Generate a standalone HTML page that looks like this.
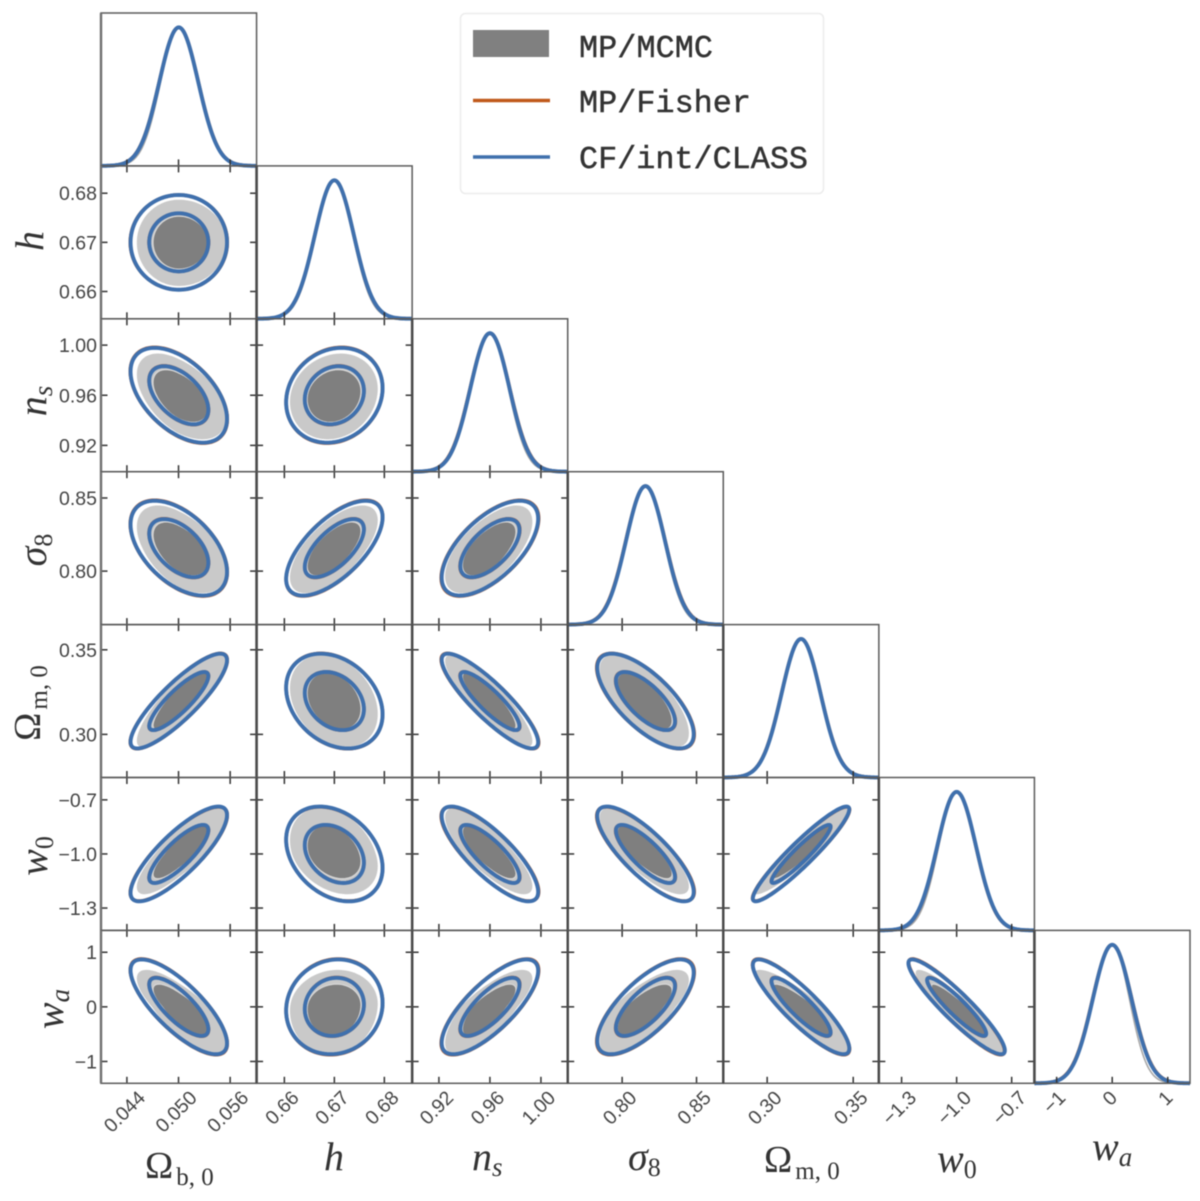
<!DOCTYPE html>
<html lang="en">
<head>
<meta charset="utf-8">
<title>Triangle plot of cosmological parameters</title>
<style>
html,body{margin:0;padding:0;background:#fff;}
svg{display:block;}
.tick{font-family:"Liberation Sans",sans-serif;font-size:19.5px;fill:#444;}
.math{font-family:"Liberation Serif",serif;fill:#333;}
.it{font-style:italic;}
.leg{font-family:"Liberation Mono",monospace;font-size:31.8px;fill:#333;stroke:#333;stroke-width:0.45px;}
</style>
</head>
<body>
<svg id="chart" width="1200" height="1201" viewBox="0 0 1200 1201" xmlns="http://www.w3.org/2000/svg">
<defs><filter id="soft" x="-2%" y="-2%" width="104%" height="104%" color-interpolation-filters="sRGB"><feGaussianBlur stdDeviation="0.5"/></filter></defs>
<rect width="1200" height="1201" fill="#fff"/>
<g filter="url(#soft)">
<g id="panels"></g>
<g>
<rect x="460.5" y="13.5" width="363" height="180" rx="5" fill="#fff" stroke="#ececec" stroke-width="1.5"/>
<rect x="473" y="30" width="76" height="27" fill="#808080"/>
<text class="leg" x="579" y="57" textLength="134">MP/MCMC</text>
<line x1="473" x2="550" y1="100.5" y2="100.5" stroke="#c0591b" stroke-width="3.4"/>
<text class="leg" x="579" y="112" textLength="172">MP/Fisher</text>
<line x1="473" x2="550" y1="157" y2="157" stroke="#3f70ad" stroke-width="3.4"/>
<text class="leg" x="579" y="168" textLength="229">CF/int/CLASS</text>
</g>
<g>
<text class="math" x="145" y="1178" font-size="38">Ω<tspan font-size="25" dx="3" dy="7">b, 0</tspan></text>
<text class="math it" x="324" y="1170" font-size="40">h</text>
<text class="math it" x="472" y="1170" font-size="40">n<tspan font-size="27" dy="6">s</tspan></text>
<text class="math it" x="628" y="1170" font-size="40">σ<tspan font-size="26" dy="6" style="font-style:normal">8</tspan></text>
<text class="math" x="764" y="1172" font-size="38">Ω<tspan font-size="25" dx="3" dy="7">m, 0</tspan></text>
<text class="math it" x="937" y="1172" font-size="40">w<tspan font-size="26" dy="6" style="font-style:normal">0</tspan></text>
<text class="math it" x="1092" y="1160" font-size="40">w<tspan font-size="27" dy="6">a</tspan></text>
</g>
<g text-anchor="middle">
<text class="math it" transform="translate(43,241) rotate(-90)" font-size="40">h</text>
<text class="math it" transform="translate(46,401) rotate(-90)" font-size="40">n<tspan font-size="27" dy="6">s</tspan></text>
<text class="math it" transform="translate(46,550) rotate(-90)" font-size="40">σ<tspan font-size="26" dy="6" style="font-style:normal">8</tspan></text>
<text class="math" transform="translate(40,703) rotate(-90)" font-size="38">Ω<tspan font-size="25" dx="3" dy="7">m, 0</tspan></text>
<text class="math it" transform="translate(47,856) rotate(-90)" font-size="40">w<tspan font-size="26" dy="6" style="font-style:normal">0</tspan></text>
<text class="math it" transform="translate(63,1009) rotate(-90)" font-size="40">w<tspan font-size="27" dy="6">a</tspan></text>
</g>
</g>
</svg>
<script>
// ---- data ----
const paramNames = ['omega-b','h','ns','sigma8','omega-m','w0','wa'];
const means  = [0.05003, 0.67, 0.96, 0.8157, 0.3197, -1.0, 0.0];
const sigmas = [0.00226, 0.00389, 0.01525, 0.01307, 0.01130, 0.106, 0.35];
const tickValues = [
  [0.044,0.050,0.056],
  [0.66,0.67,0.68],
  [0.92,0.96,1.00],
  [0.80,0.85],
  [0.30,0.35],
  [-1.3,-1.0,-0.7],
  [-1,0,1]
];
const tickLabels = [
  ['0.044','0.050','0.056'],
  ['0.66','0.67','0.68'],
  ['0.92','0.96','1.00'],
  ['0.80','0.85'],
  ['0.30','0.35'],
  ['\u22121.3','\u22121.0','\u22120.7'],
  ['\u22121','0','1']
];
// correlation of row parameter with each earlier parameter
const corrH     = [0.0];
const corrNs    = [-0.50, 0.15];
const corrSigma = [-0.50, 0.65, 0.62];
const corrOmegaM= [0.86, -0.28, -0.87, -0.70];
const corrW0    = [0.82, -0.30, -0.80, -0.80, 0.94];
const corrWa    = [-0.77, 0.08, 0.76, 0.72, -0.88, -0.92];
const correlations = [[], corrH, corrNs, corrSigma, corrOmegaM, corrW0, corrWa];
// MCMC contour size relative to Fisher, on the low and high side of each parameter
const mcmcLow  = [0.87, 0.92, 0.93, 0.95, 0.97, 0.85, 1.00];
const mcmcHigh = [0.98, 0.90, 0.88, 0.90, 0.97, 0.97, 0.78];
// Fisher contour size relative to CF/int/CLASS
const fisherScale = [1.005, 1.00, 1.01, 1.01, 1.005, 0.995, 1.01];
const contourLevels = [1.52, 2.48];

// ---- layout ----
const NS = 'http://www.w3.org/2000/svg';
const left = 101, top0 = 13, panelW = 155.57, panelH = 152.9;
const root = document.getElementById('panels');
const kRange = 4;
const lo = i => means[i] - kRange * sigmas[i];
const hi = i => means[i] + kRange * sigmas[i];
const xAxis = (col, v) => left + col * panelW + (v - lo(col)) / (hi(col) - lo(col)) * panelW;
const yAxis = (row, v) => top0 + (row + 1) * panelH - (v - lo(row)) / (hi(row) - lo(row)) * panelH;

function add(parent, tag, attrs) {
  const el = document.createElementNS(NS, tag);
  for (const k in attrs) el.setAttribute(k, attrs[k]);
  parent.appendChild(el);
  return el;
}
function ellipsePath(row, col, level, sx, sy) {
  const rho = correlations[row][col];
  const s = Math.sqrt(1 - rho * rho);
  let d = '';
  for (let n = 0; n <= 120; n++) {
    const t = n / 120 * 2 * Math.PI;
    const u = Math.cos(t), w = rho * Math.cos(t) + s * Math.sin(t);
    const x = means[col] + level * sigmas[col] * u * sx(col, u);
    const y = means[row] + level * sigmas[row] * w * sy(row, w);
    d += (n ? 'L' : 'M') + xAxis(col, x).toFixed(2) + ' ' + yAxis(row, y).toFixed(2);
  }
  return d + 'Z';
}
const unit = () => 1;
const mcmcSide = (i, u) => u < 0 ? mcmcLow[i] : mcmcHigh[i];
const fisherSide = i => fisherScale[i];

function gaussPath(i, sf) {
  const base = top0 + (i + 1) * panelH;
  const peak = 0.906 * panelH;
  let d = '';
  for (let n = 0; n <= 160; n++) {
    const v = lo(i) + n / 160 * (hi(i) - lo(i));
    const z = (v - means[i]) / sigmas[i];
    const f = z < 0 ? sf[0] : sf[1];
    const y = base - peak * Math.exp(-0.5 * z * z / (f * f));
    d += (n ? 'L' : 'M') + xAxis(i, v).toFixed(2) + ' ' + y.toFixed(2);
  }
  return d;
}

function drawTicks(g, row, col, diag) {
  const x0 = left + col * panelW, y0 = top0 + row * panelH;
  const len = 6.5;
  tickValues[col].forEach(v => {
    const x = xAxis(col, v);
    const b = add(g, 'line', {x1:x, x2:x, y1:y0 + panelH, y2:y0 + panelH - len, stroke:'#333', 'stroke-width':1.5});
    
    
    if (!diag) {
      const t = add(g, 'line', {x1:x, x2:x, y1:y0, y2:y0 + len, stroke:'#333', 'stroke-width':1.5});
      
      
    }
  });
  if (!diag) {
    tickValues[row].forEach(v => {
      const y = yAxis(row, v);
      const l = add(g, 'line', {x1:x0, x2:x0 + len, y1:y, y2:y, stroke:'#333', 'stroke-width':1.5});
      
      
      const r = add(g, 'line', {x1:x0 + panelW, x2:x0 + panelW - len, y1:y, y2:y, stroke:'#333', 'stroke-width':1.5});
      
      
    });
  }
}

for (let row = 0; row < 7; row++) {
  for (let col = 0; col <= row; col++) {
    const g = add(root, 'g', {});
    
    
    const x0 = left + col * panelW, y0 = top0 + row * panelH;
    if (row === col) {
      const sfMcmc = [0.5 + 0.5 * mcmcLow[row], 0.5 + 0.5 * mcmcHigh[row]];
      const sfFisher = [fisherScale[row], fisherScale[row]];
      const m = add(g, 'path', {d:gaussPath(row, sfMcmc), fill:'none', stroke:'#a8a8a8', 'stroke-width':1.6});
      
      
      const f = add(g, 'path', {d:gaussPath(row, sfFisher), fill:'none', stroke:'#c0591b', 'stroke-width':3.6});
      
      
      const c = add(g, 'path', {d:gaussPath(row, [1, 1]), fill:'none', stroke:'#3f70ad', 'stroke-width':3.9});
      
      
    } else {
      const outer = add(g, 'path', {d:ellipsePath(row, col, contourLevels[1], mcmcSide, mcmcSide), fill:'#c9c9c9'});
      
      
      const inner = add(g, 'path', {d:ellipsePath(row, col, contourLevels[0], mcmcSide, mcmcSide), fill:'#7f7f7f', stroke:'#dcdcdc', 'stroke-width':1});
      
      
      contourLevels.forEach(level => {
        const f = add(g, 'path', {d:ellipsePath(row, col, level, fisherSide, fisherSide), fill:'none', stroke:'#c0591b', 'stroke-width':3.6});
        
        
        const c = add(g, 'path', {d:ellipsePath(row, col, level, unit, unit), fill:'none', stroke:'#3f70ad', 'stroke-width':3.9});
        
        
      });
    }
    drawTicks(g, row, col, row === col);
    const frame = add(g, 'rect', {x:x0, y:y0, width:panelW, height:panelH, fill:'none', stroke:'#5a5a5a', 'stroke-width':1.5});
    
    
    const sideL = add(g, 'line', {x1:x0, x2:x0, y1:y0, y2:y0 + panelH, stroke: col === 0 ? '#707070' : '#4a4a4a', 'stroke-width':2.4});
    
    
    if (row !== col) {
      const sideR = add(g, 'line', {x1:x0 + panelW, x2:x0 + panelW, y1:y0, y2:y0 + panelH, stroke:'#4a4a4a', 'stroke-width':2.4});
      
      
    }
  }
}

// y tick labels on the left column
for (let row = 1; row < 7; row++) {
  tickValues[row].forEach((v, i) => {
    const t = add(root, 'text', {class:'tick', x:97, y:yAxis(row, v) + 7, 'text-anchor':'end'});
    
    
    t.textContent = tickLabels[row][i];
  });
}
// rotated x tick labels on the bottom row
for (let col = 0; col < 7; col++) {
  tickValues[col].forEach((v, i) => {
    const t = add(root, 'text', {class:'tick', 'text-anchor':'middle', 'dominant-baseline':'central'});
    
    
    t.textContent = tickLabels[col][i];
    const w = t.getComputedTextLength();
    const cy = 1088 + (w + 19) * 0.707 / 2;
    t.setAttribute('transform', 'translate(' + (xAxis(col, v) - 2).toFixed(1) + ',' + cy.toFixed(1) + ') rotate(-45)');
  });
}
</script>
</body>
</html>
